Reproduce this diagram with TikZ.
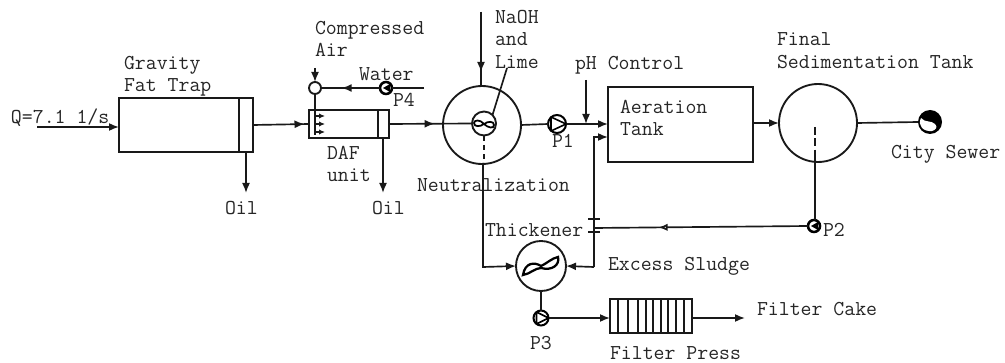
\documentclass[tikz,border=0pt]{standalone}
\usepackage{fix-cm}
\usetikzlibrary{arrows.meta,decorations.markings,calc}
\newcommand{\PX}[1]{#1*0.75pt}
\tikzset{
  ln/.style={line width=1.25pt,draw=black!90},
  arr/.style={ln,-{Latex[length=7.5pt,width=6pt]}},
  marr/.style={ln,postaction={decorate},decoration={markings,mark=at position #1 with {\arrow{Latex[length=7.5pt,width=6pt]}}}},
  rarr/.style={ln,postaction={decorate},decoration={markings,mark=at position #1 with {\arrow{Latex[length=7pt,width=5.5pt,open,fill=white]}}}},
  tank/.style={draw=black!90,line width=1.5pt,rectangle,inner sep=0,outer sep=0},
  rnd/.style={draw=black!90,line width=1.4pt,circle,inner sep=0,outer sep=0,fill=white},
  smallpump/.style={draw=black,line width=1.9pt,circle,inner sep=0,outer sep=0,minimum size=\PX{12},fill=white},
  bigpump/.style={draw=black,line width=1.5pt,circle,inner sep=0,outer sep=0,fill=white},
  lab/.style={inner sep=0,outer sep=0,anchor=north west,align=left,text=black!85,
    font=\fontsize{15.9}{17}\selectfont\ttfamily},
}
\begin{document}
\begin{tikzpicture}[x=0.75pt,y=-0.75pt]
\useasboundingbox (0,0) rectangle (1005,363);
% vessels
\node[tank,minimum width=\PX{134},minimum height=\PX{54}] (grav) at (186,125) {};
\node[tank,minimum width=\PX{80},minimum height=\PX{28}] (daf) at (349,124) {};
\node[tank,minimum width=\PX{145},minimum height=\PX{75}] (aer) at (680.5,124.5) {};
\node[tank,minimum width=\PX{82},minimum height=\PX{34}] (press) at (651,316) {};
\node[rnd,minimum size=\PX{78}] (neut) at (482,125) {};
\node[rnd,minimum size=\PX{24}] (inner) at (484,123.5) {};
\node[rnd,minimum size=\PX{78}] (final) at (818,123) {};
\node[rnd,minimum size=\PX{50}] (thick) at (541,266) {};
\node[rnd,minimum size=\PX{12}] (air) at (315,88) {};
\node[bigpump,minimum size=\PX{18}] (p1) at (557,124) {};
\node[bigpump,minimum size=\PX{15}] (p3) at (541,318) {};
\node[smallpump] (p2) at (814,226) {};
\node[smallpump] (p4) at (386,88) {};
\node[circle,fill=black,inner sep=0,outer sep=0,minimum size=\PX{24}] (sewer) at (930,122) {};
% free ends
\coordinate (qin) at (37,127);
\coordinate (airin) at (315,68);
\coordinate (waterin) at (424,88);
\coordinate (oila) at (246,193);
\coordinate (oilb) at (383,193);
\coordinate (naoh) at (481,12);
\coordinate (ph) at (586,80);
\coordinate (phend) at (586,124);
\coordinate (cake) at (745,318);
\coordinate (lime) at (507,68);
\coordinate (up) at (594,137);
\coordinate (low) at (594,267);
\coordinate (rec) at (594,228);
% partitions
\draw[ln] (239,98) -- (239,152);
\draw[ln] (378,110) -- (378,138);
\foreach \x in {618,628,638,646,653,661,668,676,684} \draw[line width=1pt,draw=black!90] (\x,299) -- (\x,333);
% connectors
\draw[arr] (qin) -- (grav.west |- qin);
\draw[arr] (grav.south -| oila) -- (oila);
\draw[marr=0.92] (grav.east) -- (daf.west);
\draw[arr] (airin) -- (air.north);
\draw[ln] (air.south) -- (315,135);
\foreach \y in {116,124,132} \draw[ln,-{Latex[length=4.5pt,width=4pt]}] (315,\y) -- (325,\y);
\draw[marr=0.65] (p4.west) -- (air.east);
\draw[ln] (waterin) -- (p4.east);
\draw[arr] (daf.south -| oilb) -- (oilb);
\draw[marr=0.55] (daf.east) -- (inner.west);
\draw[ln] (naoh) -- (neut.north -| naoh);
\draw[arr] (naoh) -- (481,72);
\draw[ln] (inner.north east) -- (lime);
\draw[ln] (neut.east) -- (p1.west);
\draw[arr] (p1.east) -- (aer.west |- phend);
\draw[arr] (ph) -- (phend);
\draw[ln,dash pattern=on 4pt off 3pt] (inner.south) -- (neut.south -| inner);
\draw[arr] (aer.east |- final) -- (final.west);
\draw[ln] (final.east) -- (sewer.west);
\draw[ln,dash pattern=on 6pt off 2.5pt] (815,127) -- (815,155);
\draw[ln] (815,155) -- (815,220);
\draw[rarr=0.7] (p2.west) -- (rec);
\draw[ln] (rec) -- (low);
\draw[ln] (rec) -- (594,219);
\draw[ln] (588,219) -- (600,219);
\draw[ln] (588,232) -- (600,232);
\draw[arr] (594,219) -- (up) -- (aer.west |- up);
\draw[arr] (low) -- (thick.east);
\draw[arr] (483,163) -- (483,267) -- (thick.west);
\draw[ln] (thick.south) -- (p3.north);
\draw[arr] (p3.east) -- (press.west |- p3);
\draw[arr] (press.east |- cake) -- (cake);
% pump symbols
\draw[line width=1.2pt,line join=round] (p1.west) ++(3,-7) -- ++(15,7) -- ++(-15,7) -- cycle;
\draw[line width=1.2pt,line join=round] (p3.west) ++(3,-6) -- ++(12,6) -- ++(-12,6) -- cycle;
\fill[black] (p2.east) ++(-2,-4) -- ++(-7,4) -- ++(7,4) -- cycle;
\fill[black] (p4.east) ++(-2,-4) -- ++(-7,4) -- ++(7,4) -- cycle;
% impellers
\draw[line width=1.3pt,fill=white] (484,124) .. controls (480,119) and (474,120) .. (474,123) .. controls (474,127) and (480,127) .. (484,124) .. controls (488,121) and (494,121) .. (494,125) .. controls (494,129) and (488,128) .. (484,124) -- cycle;
\draw[line width=1.7pt,fill=white] (523,275) .. controls (525,262) and (535,262) .. (541,266) .. controls (546,264) and (552,258) .. (558,257) .. controls (560,265) and (552,271) .. (541,268) .. controls (535,268) and (530,274) .. (523,275) -- cycle;
% sewer swirl
\fill[white] (921,118) .. controls (925,123) and (931,120) .. (935,124) .. controls (938,127) and (936,130) .. (932,131) .. controls (924,132) and (917,126) .. (921,118) -- cycle;
% labels
\node[lab] (tq) at (11,109) {Q=7.1 1/s};
\node[lab] (tgrav) at (124,56) {Gravity\\Fat Trap};
\node[lab] (toila) at (225,201) {Oil};
\node[lab] (toilb) at (372,201) {Oil};
\node[lab] (tcomp) at (315,21) {Compressed\\Air};
\node[lab] (twater) at (359,68) {Water};
\node[lab] (tp4) at (393,93) {P4};
\node[lab] (tdaf) at (327,146) {DAF\\unit};
\node[lab] (tnaoh) at (495,10) {NaOH\\and\\Lime};
\node[lab] (tph) at (575,56) {pH Control};
\node[lab] (taer) at (620,100) {Aeration\\Tank};
\node[lab] (tp1) at (552,134) {P1};
\node[lab] (tfinal) at (777,33) {Final\\Sedimentation Tank};
\node[lab] (tsewer) at (891,145) {City Sewer};
\node[lab] (tp2) at (823,223) {P2};
\node[lab] (tneut) at (417,179) {Neutralization};
\node[lab] (tthick) at (485,224) {Thickener};
\node[lab] (tex) at (608,257) {Excess Sludge};
\node[lab] (tp3) at (530,336) {P3};
\node[lab] (tcake) at (757,302) {Filter Cake};
\node[lab] (tpress) at (610,347) {Filter Press};
\end{tikzpicture}
\end{document}
